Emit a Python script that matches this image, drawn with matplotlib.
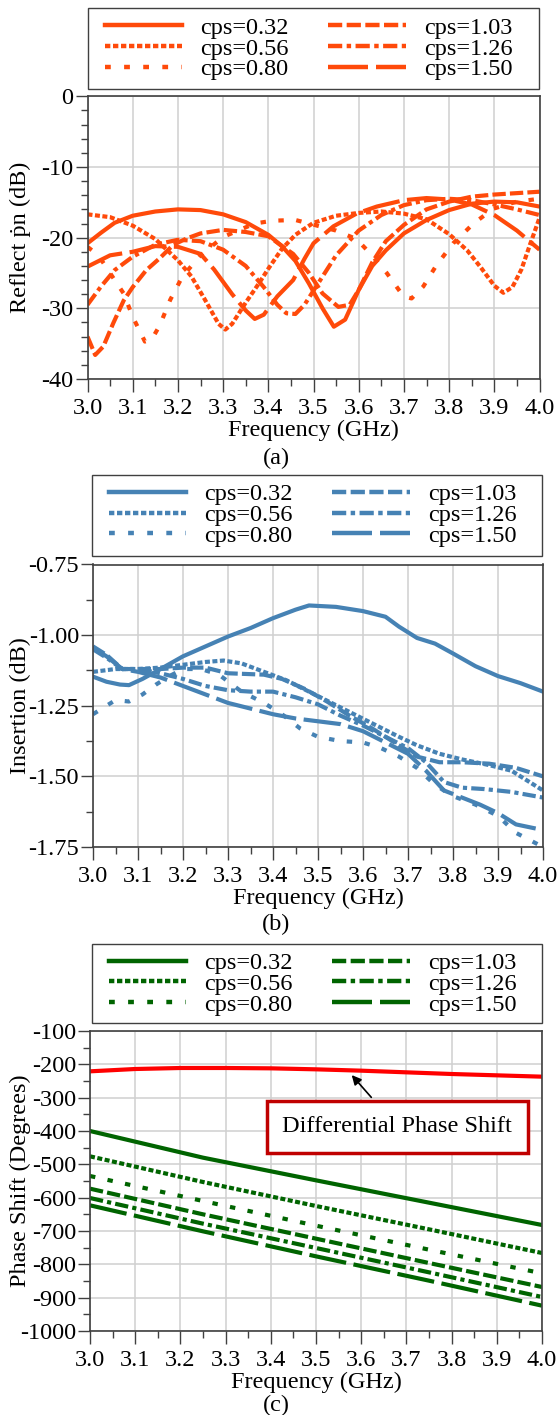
import matplotlib

matplotlib.use("Agg")
import matplotlib.pyplot as plt
from matplotlib.lines import Line2D
from matplotlib.patches import Rectangle
from matplotlib.ticker import MultipleLocator, FormatStrFormatter

plt.rcParams["font.family"] = ["Liberation Serif", "DejaVu Serif"]

labels = ["cps=0.32", "cps=0.56", "cps=0.80", "cps=1.03", "cps=1.26", "cps=1.50"]

# (a) reflection, dB
refl_f = [
    [3.00, 3.03, 3.06, 3.10, 3.15, 3.20, 3.25, 3.30, 3.35, 3.40, 3.43, 3.46, 3.49, 3.52, 3.545, 3.57, 3.60, 3.63,
     3.66, 3.70, 3.75, 3.80, 3.85, 3.90, 3.95, 4.00],
    [3.00, 3.05, 3.10, 3.15, 3.20, 3.23, 3.26, 3.29, 3.305, 3.32, 3.35, 3.38, 3.40, 3.43, 3.46, 3.50, 3.55, 3.60,
     3.65, 3.70, 3.75, 3.80, 3.84, 3.87, 3.90, 3.92, 3.94, 3.96, 3.98, 4.00],
    [3.00, 3.024, 3.057, 3.08, 3.10, 3.127, 3.142, 3.16, 3.183, 3.21, 3.25, 3.30, 3.37, 3.41, 3.46, 3.49, 3.55,
     3.595, 3.625, 3.662, 3.699, 3.717, 3.743, 3.772, 3.809, 3.854, 3.898, 3.95, 4.00],
    [3.00, 3.017, 3.035, 3.057, 3.08, 3.10, 3.13, 3.16, 3.19, 3.22, 3.25, 3.30, 3.35, 3.40, 3.455, 3.49, 3.52,
     3.555, 3.58, 3.60, 3.63, 3.66, 3.70, 3.75, 3.80, 3.85, 3.90, 3.95, 4.00],
    [3.00, 3.03, 3.06, 3.10, 3.15, 3.20, 3.25, 3.30, 3.35, 3.39, 3.42, 3.44, 3.46, 3.48, 3.50, 3.55, 3.60, 3.65,
     3.70, 3.75, 3.80, 3.85, 3.90, 3.95, 4.00],
    [3.00, 3.05, 3.10, 3.15, 3.20, 3.25, 3.28, 3.32, 3.35, 3.37, 3.39, 3.42, 3.455, 3.48, 3.50, 3.544, 3.595, 3.64,
     3.70, 3.75, 3.80, 3.85, 3.90, 3.95, 4.00],
]
refl_db = [
    [-20.8, -19.3, -17.9, -16.9, -16.3, -16.0, -16.1, -16.7, -17.8, -19.6, -21.2, -23.3, -26.5, -30.0, -32.6, -31.6,
     -27.4, -24.0, -21.8, -19.4, -17.5, -16.1, -15.2, -14.9, -15.0, -15.6],
    [-16.7, -17.1, -18.3, -20.2, -23.2, -25.5, -28.8, -32.2, -33.0, -32.2, -29.2, -26.4, -24.4, -21.6, -19.6, -17.9,
     -16.9, -16.5, -16.3, -16.6, -17.4, -19.5, -21.8, -24.2, -26.8, -27.8, -27.0, -24.5, -20.8, -17.2],
    [-21.3, -22.5, -25.7, -27.9, -31.2, -34.7, -34.4, -32.4, -28.8, -25.5, -22.5, -19.9, -18.0, -17.6, -17.5, -18.0,
     -19.0, -20.2, -22.2, -25.0, -28.3, -28.6, -26.9, -23.9, -20.8, -18.0, -15.9, -14.9, -14.5],
    [-34.0, -36.6, -35.4, -32.1, -28.9, -27.0, -24.6, -22.9, -21.0, -20.1, -19.4, -18.9, -19.2, -19.8, -22.3, -25.0,
     -27.9, -29.8, -29.5, -27.4, -23.5, -20.5, -18.2, -16.0, -14.9, -14.2, -13.9, -13.7, -13.5],
    [-29.5, -26.9, -24.6, -22.7, -21.0, -20.3, -20.5, -21.7, -24.0, -27.0, -29.5, -30.7, -30.8, -29.5, -27.5, -22.5,
     -19.0, -16.8, -15.4, -14.7, -14.5, -14.7, -15.3, -16.0, -16.8],
    [-24.1, -22.5, -22.0, -21.2, -21.3, -22.3, -24.5, -28.0, -30.3, -31.5, -30.9, -28.3, -26.0, -23.0, -20.8, -18.4,
     -16.6, -15.6, -14.7, -14.4, -14.6, -15.3, -16.8, -19.0, -21.7],
]

# (b) insertion, dB
ins_f = [
    [3.00, 3.03, 3.06, 3.08, 3.11, 3.15, 3.20, 3.25, 3.30, 3.35, 3.40, 3.45, 3.48, 3.54, 3.60, 3.65, 3.68, 3.72,
     3.76, 3.80, 3.85, 3.90, 3.95, 4.00],
    [3.00, 3.05, 3.10, 3.15, 3.20, 3.25, 3.29, 3.33, 3.38, 3.43, 3.48, 3.53, 3.58, 3.63, 3.68, 3.72, 3.77, 3.82,
     3.88, 3.93, 3.97, 4.00],
    [3.00, 3.03, 3.05, 3.08, 3.11, 3.14, 3.17, 3.20, 3.24, 3.28, 3.33, 3.38, 3.42, 3.46, 3.50, 3.55, 3.60, 3.64,
     3.68, 3.72, 3.76, 3.80, 3.85, 3.90, 3.94, 4.00],
    [3.00, 3.03, 3.065, 3.10, 3.15, 3.20, 3.25, 3.30, 3.38, 3.42, 3.47, 3.52, 3.57, 3.62, 3.67, 3.72, 3.77, 3.82,
     3.88, 3.94, 4.00],
    [3.00, 3.03, 3.065, 3.10, 3.15, 3.20, 3.25, 3.30, 3.35, 3.40, 3.45, 3.50, 3.55, 3.60, 3.65, 3.70, 3.74, 3.78,
     3.82, 3.87, 3.93, 4.00],
    [3.00, 3.03, 3.065, 3.10, 3.15, 3.20, 3.25, 3.30, 3.35, 3.40, 3.45, 3.50, 3.55, 3.60, 3.65, 3.70, 3.74, 3.78,
     3.82, 3.86, 3.90, 3.94, 4.00],
]
ins_db = [
    [-1.147, -1.165, -1.175, -1.177, -1.155, -1.12, -1.075, -1.04, -1.005, -0.975, -0.94, -0.91, -0.895, -0.90,
     -0.915, -0.935, -0.97, -1.01, -1.03, -1.065, -1.11, -1.145, -1.17, -1.20],
    [-1.13, -1.12, -1.12, -1.115, -1.105, -1.095, -1.09, -1.10, -1.13, -1.16, -1.20, -1.24, -1.28, -1.32, -1.36,
     -1.39, -1.42, -1.44, -1.46, -1.48, -1.52, -1.55],
    [-1.28, -1.25, -1.23, -1.235, -1.21, -1.175, -1.145, -1.12, -1.12, -1.14, -1.20, -1.24, -1.28, -1.33, -1.36,
     -1.375, -1.38, -1.40, -1.43, -1.47, -1.53, -1.57, -1.60, -1.64, -1.70, -1.75],
    [-1.04, -1.07, -1.12, -1.12, -1.12, -1.115, -1.115, -1.135, -1.14, -1.155, -1.19, -1.235, -1.285, -1.33, -1.38,
     -1.43, -1.45, -1.45, -1.455, -1.47, -1.50],
    [-1.05, -1.08, -1.12, -1.12, -1.135, -1.155, -1.18, -1.195, -1.20, -1.20, -1.22, -1.245, -1.285, -1.32, -1.36,
     -1.40, -1.45, -1.52, -1.54, -1.545, -1.555, -1.575],
    [-1.045, -1.075, -1.12, -1.13, -1.15, -1.18, -1.21, -1.24, -1.26, -1.28, -1.295, -1.305, -1.315, -1.34, -1.38,
     -1.42, -1.48, -1.55, -1.575, -1.60, -1.63, -1.67, -1.69],
]

# (c) phase, degrees
phase_f = [3.00, 3.25, 3.50, 3.75, 4.00]
phase_deg = [
    [-400, -480, -548, -615, -682],
    [-476, -553, -625, -695, -766],
    [-535, -610, -684, -756, -827],
    [-573, -650, -723, -796, -868],
    [-601, -678, -751, -824, -898],
    [-623, -701, -776, -849, -924],
]
diff_f = [3.00, 3.10, 3.20, 3.30, 3.40, 3.50, 3.60, 3.70, 3.80, 3.90, 4.00]
diff_deg = [-221, -214, -211, -211, -212, -215, -219, -224, -229, -233, -237]

styles = ["-", (0, (1.2, 0.6)), (0, (1.3, 3.0)), (0, (3.2, 1.0)), (0, (3.2, 1.0, 1.0, 1.0)), (0, (9.0, 1.8))]

W, H = 558, 1415
FS = 17.5
fig = plt.figure(figsize=(W / 100, H / 100), dpi=100)


def px_axes(left, top, right, bottom):
    return fig.add_axes([left / W, 1 - bottom / H, (right - left) / W, (bottom - top) / H])


def style_axes(ax, ylim, ymajor, yminor, yfmt):
    ax.set_xlim(3.0, 4.0)
    ax.set_ylim(*ylim)
    ax.xaxis.set_major_locator(MultipleLocator(0.1))
    ax.xaxis.set_minor_locator(MultipleLocator(0.05))
    ax.xaxis.set_major_formatter(FormatStrFormatter("%.1f"))
    ax.yaxis.set_major_locator(MultipleLocator(ymajor))
    ax.yaxis.set_minor_locator(MultipleLocator(yminor))
    ax.yaxis.set_major_formatter(FormatStrFormatter(yfmt))
    ax.grid(True, which="major", color="#d0d0d0", lw=1.1)
    ax.set_axisbelow(True)
    ax.tick_params(which="major", direction="out", length=9, width=1.0, color="#404040", labelsize=FS, pad=1)
    ax.tick_params(axis="x", which="major", pad=5)
    ax.tick_params(which="minor", direction="out", length=5, width=1.0, color="#404040")
    for sp in ax.spines.values():
        sp.set_color("#404040")
        sp.set_linewidth(1.2)


def add_legend(color, box, first_row):
    # box drawn by hand, entries placed without frame
    left, top, right, bottom = box
    fig.patches.append(Rectangle((left / W, 1 - bottom / H), (right - left) / W, (bottom - top) / H,
                                 transform=fig.transFigure, fc="white", ec="#404040", lw=1.0, zorder=1))
    handles = [Line2D([], [], color=color, lw=3.2, linestyle=s) for s in styles]
    fig.legend(handles, labels, loc="upper left", ncol=2, fontsize=FS, frameon=False,
               bbox_to_anchor=((left + 17) / W, 1 - (first_row - 10) / H),
               handlelength=3.2, handletextpad=0.75, labelspacing=-0.05, columnspacing=1.6,
               borderpad=0, borderaxespad=0)


def add_texts(ax_box, ylabel, tag, xl_off, tag_off):
    left, top, right, bottom = ax_box
    fig.text(20 / W, 1 - (top + bottom) / 2 / H, ylabel, rotation=90, ha="center", va="center", fontsize=FS)
    fig.text((left + right) / 2 / W, 1 - (bottom + xl_off) / H, "Frequency (GHz)", ha="center", va="center",
             fontsize=FS)
    fig.text(276 / W, 1 - (bottom + tag_off) / H, tag, ha="center", va="center", fontsize=FS)


# panel (a)
box_a = (87.5, 96.3, 539.5, 379)
ax = px_axes(*box_a)
for f, v, s in zip(refl_f, refl_db, styles):
    ax.plot(f, v, color="#ff4a0a", lw=3.0, linestyle=s)
style_axes(ax, (-40, 0), 10, 2, "%d")
add_legend("#ff4a0a", (87.5, 8.3, 539, 89.3), 26.7)
add_texts(box_a, "Reflect ṗn (dB)", "(a)", 51, 79)

# panel (b)
box_b = (93, 564.5, 543, 847)
ax = px_axes(*box_b)
for f, v, s in zip(ins_f, ins_db, styles):
    ax.plot(f, v, color="#4682b4", lw=3.0, linestyle=s)
style_axes(ax, (-1.75, -0.75), 0.25, 0.125, "%.2f")
add_legend("#4682b4", (91.5, 475, 541.6, 556), 493.3)
add_texts(box_b, "Insertion (dB)", "(b)", 51, 77)

# panel (c)
box_c = (90, 1031, 542, 1331)
ax = px_axes(*box_c)
for v, s in zip(phase_deg, styles):
    ax.plot(phase_f, v, color="#006400", lw=3.0, linestyle=s)
ax.plot(diff_f, diff_deg, color="#ff0000", lw=3.0)
style_axes(ax, (-1000, -100), 100, 50, "%d")
ax.annotate("Differential Phase Shift", xy=(3.575, -226), xytext=(3.68, -388), ha="center", va="center",
            fontsize=FS, bbox=dict(boxstyle="square,pad=0.65", fc="white", ec="#c00000", lw=2.5),
            arrowprops=dict(arrowstyle="-|>", color="black", lw=1.2, mutation_scale=14))
add_legend("#006400", (91.5, 943.6, 541.6, 1022.7), 962)
add_texts(box_c, "Phase Shift (Degrees)", "(c)", 51, 74)

fig.savefig("out.png", dpi=100)
